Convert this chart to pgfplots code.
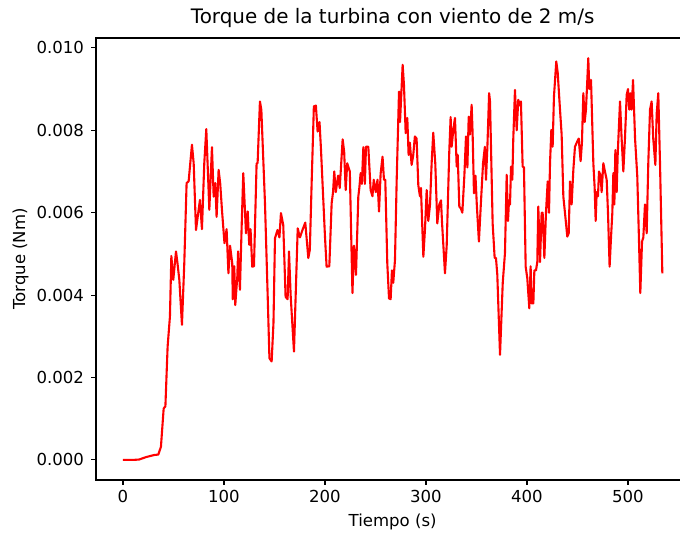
\documentclass[border=0pt]{standalone}
\usepackage{pgfplots}
\pgfplotsset{compat=1.18}
\usepackage{fontspec}
\setmainfont{DejaVu Sans}
\begin{document}
\begin{tikzpicture}
\begin{axis}[
  at={(96bp,56bp)}, anchor=south west,
  scale only axis, width=593.3bp, height=442bp,
  xmin=-26.7, xmax=560.7, ymin=-0.000487, ymax=0.01024,
  xtick={0,100,200,300,400,500},
  ytick={0,0.002,0.004,0.006,0.008,0.010},
  scaled y ticks=false,
  yticklabel style={/pgf/number format/fixed,/pgf/number format/fixed zerofill,/pgf/number format/precision=3},
  /pgf/number format/assume math mode=true,
  tick pos=left, tick align=outside,
  major tick length=4.9bp,
  every tick/.style={black, line width=1.1bp},
  axis line style={line width=1.1bp},
  tick label style={font=\fontsize{16.6}{19}\selectfont, inner sep=0pt},
  xticklabel style={yshift=-5.5bp},
  yticklabel style={xshift=-7bp},
  title={Torque de la turbina con viento de 2 m/s},
  title style={at={(0.5,1)}, anchor=base, yshift=9bp, inner sep=0pt, font=\fontsize{20}{24}\selectfont},
  xlabel={Tiempo (s)},
  ylabel={Torque (Nm)},
  xlabel style={at={(0.5,-0.095)}, anchor=center, font=\fontsize{16.6}{19}\selectfont, inner sep=0pt},
  ylabel style={at={(-0.127,0.5)}, anchor=center, rotate=0, font=\fontsize{16.6}{19}\selectfont, inner sep=0pt},
]
\addplot[red, line width=2.1bp, line join=round, no marks] coordinates {
(0,0) (10,0) (16,0.00001) (23,0.00007) (31,0.00012) (35,0.00013) (37.6,0.00032)
(40.3,0.00125) (42,0.0013) (44.2,0.00275) (46.5,0.00348) (47.9,0.00495) (49.8,0.00437)
(52.5,0.00506) (54,0.00477) (55.8,0.00437) (58.4,0.00328) (60.7,0.00477) (63,0.00672)
(65,0.00676) (68.3,0.00765) (70,0.0072) (72.3,0.00558) (74,0.0059) (76.2,0.00631)
(78.2,0.0056) (80.5,0.0072) (82.5,0.00803) (85.5,0.00607) (88.1,0.00759) (89.8,0.00639)
(91.4,0.00672) (92.7,0.0059) (94.7,0.00704) (96.3,0.0067) (98,0.00607) (100.5,0.00526)
(102.6,0.0056) (104.4,0.00453) (106,0.0052) (108.2,0.00477) (108.7,0.0039) (110.2,0.0047)
(111.2,0.00376) (113.2,0.00445) (114,0.00506) (115.8,0.00413) (117.5,0.00566) (119.1,0.00696)
(121.8,0.0055) (123.5,0.00603) (125,0.00522) (126.3,0.0056) (128,0.00469) (129.7,0.0047)
(132.3,0.0072) (133.3,0.0072) (135.6,0.0087) (137,0.0085) (140.6,0.00623) (143.3,0.00396)
(145,0.00247) (147.2,0.00239) (149,0.00332) (150.5,0.00538) (153,0.00558) (154.9,0.0054)
(156.4,0.00599) (158.7,0.0057) (161,0.00396) (163,0.0039) (164.4,0.00506) (166,0.0040)
(169.3,0.00263) (173,0.00562) (175.2,0.0054) (178,0.0056) (180.5,0.00576) (183.5,0.0049)
(185,0.0051) (186.8,0.00672) (189,0.00858) (191,0.0086) (192.7,0.00797) (194.6,0.0082)
(196,0.00756) (200,0.00542) (201.6,0.00469) (204.3,0.0047) (206.6,0.00623) (208,0.0065)
(209.2,0.007) (210.7,0.0065) (213,0.0069) (214.6,0.0066) (217.5,0.00778) (219,0.00748)
(220.5,0.00655) (222,0.0072) (224.6,0.0070) (227.2,0.00405) (228.7,0.0052) (230.7,0.00449)
(233,0.00639) (234,0.0066) (235.3,0.00696) (236.5,0.0067) (238,0.00759) (239.5,0.0067)
(240.6,0.0076) (242.9,0.0076) (245.2,0.00655) (247,0.0064) (248.3,0.0068) (250.3,0.0065)
(252,0.0068) (253.5,0.00603) (255.1,0.00695) (257,0.00736) (258.4,0.0068) (259.7,0.0068)
(261.7,0.00477) (263.4,0.00392) (265,0.0039) (266.3,0.0046) (267.6,0.0043) (269.3,0.00485)
(271,0.0068) (273.3,0.00894) (274.3,0.0082) (276.9,0.00959) (278.2,0.0091) (279.9,0.00793)
(281.5,0.0083) (282.8,0.0074) (284,0.0077) (285.8,0.00716) (287.4,0.0074) (289,0.00785)
(290.7,0.0078) (292.4,0.00667) (294,0.0064) (295,0.0066) (297.4,0.00493) (299,0.0056)
(300.7,0.00655) (302.3,0.0058) (304,0.0062) (305.6,0.0072) (307.2,0.00794) (309.2,0.0072)
(311.2,0.00574) (313.2,0.0062) (314.9,0.0063) (315.8,0.0058) (318.8,0.00453) (320.5,0.0052)
(323,0.00744) (324.4,0.00832) (325.4,0.0076) (327,0.0080) (328.7,0.0083) (330.4,0.00712)
(331.4,0.0074) (333,0.00615) (334.6,0.0061) (336,0.0060) (338,0.0069) (339.6,0.00785)
(341,0.0071) (342.3,0.00833) (343.6,0.0079) (345.2,0.00862) (346.2,0.0079) (347.5,0.00647)
(349,0.0069) (350.3,0.0062) (352.4,0.0053) (354.3,0.0062) (356.5,0.0072) (358.3,0.0076)
(359.4,0.0068) (360.8,0.0076) (362.5,0.0089) (363.4,0.0087) (366,0.00574) (368,0.0049)
(369.3,0.0049) (370.6,0.0045) (373.3,0.00255) (376,0.0043) (378.2,0.00502) (379.9,0.00692)
(381.2,0.0058) (382.2,0.0063) (383.2,0.0062) (384.2,0.00712) (385.5,0.0068) (386.4,0.00777)
(388.1,0.00898) (389.8,0.0080) (391.4,0.00874) (393,0.0086) (394,0.0087) (395.7,0.00712)
(397,0.0071) (398.7,0.00469) (400.3,0.00441) (402.3,0.00368) (403.6,0.0047) (404.6,0.0038)
(406.3,0.0038) (407.3,0.0046) (408.9,0.0046) (410.2,0.0048) (411.2,0.00615) (412.9,0.0048)
(414.5,0.0060) (415.5,0.0060) (417.2,0.0049) (418.8,0.0060) (420.5,0.00676) (421.8,0.0060)
(422.8,0.0072) (424.1,0.00801) (425.4,0.0076) (426.7,0.00882) (429,0.00967) (430.4,0.0094)
(432.7,0.0085) (434.3,0.0079) (436,0.00639) (438,0.0059) (439.9,0.00542) (441.3,0.0055)
(442.6,0.00676) (444.2,0.0062) (445.9,0.00704) (447.5,0.0076) (449.8,0.00773) (451.2,0.0078)
(453.1,0.00725) (454.4,0.0077) (455.8,0.0089) (457.1,0.0082) (458.4,0.0085) (460.7,0.00975)
(461.7,0.0090) (463.4,0.00922) (465.7,0.0072) (467,0.0066) (468,0.0058) (469,0.0065)
(470.3,0.0064) (471.3,0.0070) (472.9,0.0069) (473.9,0.0065) (475.6,0.0072) (477.2,0.0070)
(478.9,0.0068) (480.2,0.0060) (481.8,0.00469) (483.2,0.0054) (484.5,0.0060) (485.5,0.00696)
(486.5,0.0062) (487.5,0.00752) (488.8,0.0065) (489.8,0.0074) (492.1,0.0087) (493.7,0.0078)
(495.4,0.0070) (497,0.0078) (498.7,0.00886) (500,0.0090) (501.3,0.0085) (502.6,0.0089)
(503.6,0.0085) (505,0.00922) (507,0.0078) (509.2,0.00688) (510.6,0.0056) (512.2,0.00405)
(513.9,0.0053) (515.2,0.0054) (516.8,0.0062) (518.5,0.0055) (520.1,0.0072) (521.8,0.0085)
(523.4,0.0087) (525,0.0078) (527.1,0.00716) (528.4,0.0084) (530,0.0089) (531.7,0.0072)
(534,0.00453)
};
\end{axis}
\pgfresetboundingbox
\path[use as bounding box] (0,0) rectangle (680bp,536bp);
\end{tikzpicture}
\end{document}
